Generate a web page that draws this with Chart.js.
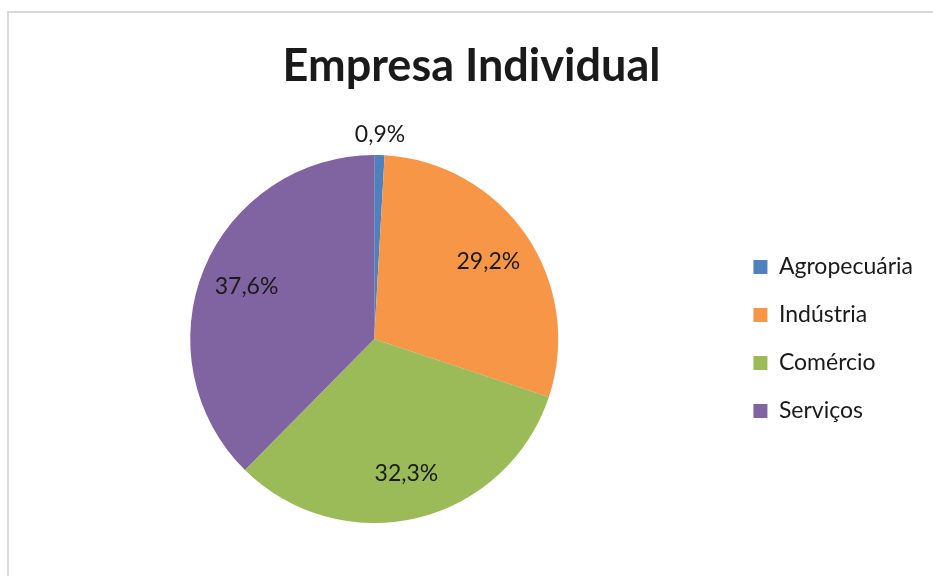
<!DOCTYPE html>
<html>
<head>
<meta charset="utf-8">
<script src="https://cdn.jsdelivr.net/npm/chart.js@4"></script>
<style>
  html, body { margin: 0; padding: 0; background: #fff; }
  #wrap { width: 933px; height: 576px; position: relative; }
</style>
</head>
<body>
<div id="wrap"><canvas id="chart" width="933" height="576"></canvas></div>
<script>
'use strict';

// ── Data ──────────────────────────────────────────────────────
const CATEGORIES = ['Agropecuária', 'Indústria', 'Comércio', 'Serviços'];
const VALUES = [0.9, 29.2, 32.3, 37.6];
const COLORS = ['#4F81BD', '#F79646', '#9BBB59', '#8064A2'];
const TITLE = 'Empresa Individual';

const FONT = 'Lato, "Open Sans", sans-serif';

// ── Plugins ───────────────────────────────────────────────────
const frame = {
  id: 'frame',
  beforeDraw(chart) {
    const ctx = chart.ctx;
    ctx.save();
    ctx.fillStyle = '#fff';
    ctx.fillRect(0, 0, chart.width, chart.height);
    ctx.strokeStyle = '#d9d9d9';
    ctx.lineWidth = 2;
    ctx.strokeRect(8, 12, chart.width + 20, chart.height + 20);
    ctx.restore();
  }
};

const sliceLabels = {
  id: 'sliceLabels',
  afterDatasetsDraw(chart) {
    const ctx = chart.ctx;
    const meta = chart.getDatasetMeta(0);
    ctx.save();
    ctx.font = `23px ${FONT}`;
    ctx.fillStyle = '#1a1a1a';
    ctx.textAlign = 'center';
    ctx.textBaseline = 'middle';
    meta.data.forEach((arc, i) => {
      const p = arc.getProps(['x', 'y', 'startAngle', 'endAngle', 'outerRadius']);
      const mid = (p.startAngle + p.endAngle) / 2;
      const small = VALUES[i] < 5;
      const r = small ? p.outerRadius * 1.11 : p.outerRadius * 0.75;
      const x = p.x + Math.cos(mid) * r;
      const y = p.y + Math.sin(mid) * r;
      ctx.fillText(VALUES[i].toFixed(1).replace('.', ',') + '%', x, y);
    });
    ctx.restore();
  }
};

// ── Chart ─────────────────────────────────────────────────────
new Chart(document.getElementById('chart'), {
  type: 'pie',
  data: {
    labels: CATEGORIES,
    datasets: [{
      data: VALUES,
      backgroundColor: COLORS,
      borderWidth: 0
    }]
  },
  options: {
    responsive: false,
    animation: false,
    layout: { padding: { left: 20, right: 10, top: 0, bottom: 53 } },
    plugins: {
      title: {
        display: true,
        text: TITLE,
        color: '#1a1a1a',
        font: { family: FONT, size: 45, weight: 'bold', lineHeight: 1.2 },
        padding: { top: 39, bottom: 62 }
      },
      legend: {
        position: 'right',
        fullSize: false,
        labels: {
          color: '#1a1a1a',
          boxWidth: 14,
          boxHeight: 14,
          padding: 25,
          font: { family: FONT, size: 23, lineHeight: 1.2 }
        }
      },
      tooltip: { enabled: false }
    }
  },
  plugins: [frame, sliceLabels]
});
</script>
</body>
</html>
